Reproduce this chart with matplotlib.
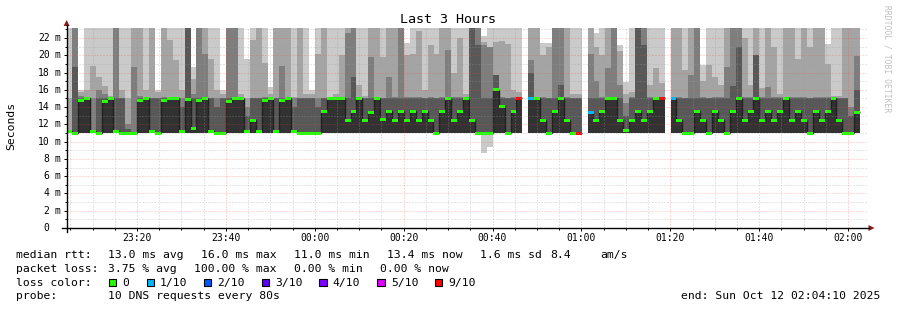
import numpy as np
import matplotlib
matplotlib.use("Agg")
import matplotlib.pyplot as plt
from matplotlib.patches import Rectangle, Polygon
from matplotlib.collections import LineCollection
from matplotlib.lines import Line2D
from matplotlib.transforms import blended_transform_factory

INF = float("inf")
NAN = float("nan")

# ---------------- data ----------------
GRAPH_START = "23:04:10"          # graph covers 3 hours
STEP_S = 80                        # rrd step (s)
FIRST_STEP_S = -7                  # first step start relative to graph start (s)
Y_MAX_MS = 23.16

x_tick_labels = ["23:20", "23:40", "00:00", "00:20", "00:40", "01:00", "01:20", "01:40", "02:00"]
y_tick_values = [0, 2, 4, 6, 8, 10, 12, 14, 16, 18, 20, 22]

median_ms = [
    11.2, 11.0, 14.8, 15.0, 11.2, 11.0, 14.6, 15.0, 11.2, 11.0,
    11.0, 11.0, 14.8, 15.0, 11.2, 11.0, 14.8, 15.0, 15.0, 11.2,
    14.9, 11.5, 14.8, 15.0, 11.2, 11.0, 11.0, 14.6, 15.0, 15.0,
    11.2, 12.5, 11.2, 14.8, 15.0, 11.2, 14.8, 15.0, 11.2, 11.0,
    11.0, 11.0, 11.0, 13.5, 15.0, 15.0, 15.0, 12.5, 13.5, 15.0,
    12.5, 13.4, 15.0, 12.6, 13.5, 12.5, 13.5, 12.5, 13.5, 12.5,
    13.5, 12.5, 11.0, 13.5, 15.0, 12.5, 13.5, 15.0, 12.5, 11.0,
    11.0, 11.0, 16.0, 14.1, 11.0, 13.5, 15.0, NAN, 15.0, 15.0,
    12.5, 11.0, 13.5, 15.0, 12.5, 11.0, 11.0, NAN, 13.4, 12.5,
    13.5, 15.0, 15.0, 12.5, 11.3, 12.5, 13.5, 12.5, 13.5, 15.0,
    15.0, NAN, 15.0, 12.5, 11.0, 11.0, 13.5, 12.5, 11.0, 13.5,
    12.5, 11.0, 13.5, 15.0, 12.5, 13.5, 15.0, 12.5, 13.5, 12.5,
    13.5, 15.0, 12.5, 13.5, 12.5, 11.0, 13.5, 12.5, 13.5, 15.0,
    12.5, 11.0, 11.0, 13.4, NAN,
]

loss_count = [
    0, 0, 0, 0, 0, 0, 0, 0, 0, 0,
    0, 0, 0, 0, 0, 0, 0, 0, 0, 0,
    0, 0, 0, 0, 0, 0, 0, 0, 0, 0,
    0, 0, 0, 0, 0, 0, 0, 0, 0, 0,
    0, 0, 0, 0, 0, 0, 0, 0, 0, 0,
    0, 0, 0, 0, 0, 0, 0, 0, 0, 0,
    0, 0, 0, 0, 0, 0, 0, 0, 0, 0,
    0, 0, 0, 0, 0, 0, 6, 10, 1, 0,
    0, 0, 0, 0, 0, 0, 6, 10, 1, 0,
    0, 0, 0, 0, 0, 0, 0, 0, 0, 0,
    6, 10, 1, 0, 0, 0, 0, 0, 0, 0,
    0, 0, 0, 0, 0, 0, 0, 0, 0, 0,
    0, 0, 0, 0, 0, 0, 0, 0, 0, 0,
    0, 0, 0, 0, NAN,
]

# sorted pings (ms): lowest, 2nd..5th, and upper ones 6th..10th
ping1_ms = [
    11.0, 11.0, 11.0, 11.0, 11.0, 11.0, 11.0, 11.0, 11.0, 11.0,
    11.0, 11.0, 11.0, 11.0, 11.0, 11.0, 11.0, 11.0, 11.0, 11.0,
    11.0, 11.0, 11.0, 11.0, 11.0, 11.0, 11.0, 11.0, 11.0, 11.0,
    11.0, 11.0, 11.0, 11.0, 11.0, 11.0, 11.0, 11.0, 11.0, 11.0,
    11.0, 11.0, 11.0, 11.0, 11.0, 11.0, 11.0, 11.0, 11.0, 11.0,
    11.0, 11.0, 11.0, 11.0, 11.0, 11.0, 11.0, 11.0, 11.0, 11.0,
    11.0, 11.0, 11.0, 11.0, 11.0, 11.0, 11.0, 11.0, 11.0, 11.0,
    8.7, 9.4, 11.0, 11.0, 11.0, 11.0, 11.0, NAN, 11.0, 11.0,
    11.0, 11.0, 11.0, 11.0, 11.0, 11.0, 11.0, NAN, 11.0, 11.0,
    11.0, 11.0, 11.0, 11.0, 11.0, 11.0, 11.0, 11.0, 11.0, 11.0,
    11.0, NAN, 11.0, 11.0, 11.0, 11.0, 11.0, 11.0, 11.0, 11.0,
    11.0, 11.0, 11.0, 11.0, 11.0, 11.0, 11.0, 11.0, 11.0, 11.0,
    11.0, 11.0, 11.0, 11.0, 11.0, 11.0, 11.0, 11.0, 11.0, 11.0,
    11.0, 11.0, 11.0, 11.0, NAN,
]

ping2to5_ms = [
    11.0, 11.0, 11.0, 11.0, 11.0, 11.0, 11.0, 11.0, 11.0, 11.0,
    11.0, 11.0, 11.0, 11.0, 11.0, 11.0, 11.0, 11.0, 11.0, 11.0,
    11.0, 11.0, 11.0, 11.0, 11.0, 11.0, 11.0, 11.0, 11.0, 11.0,
    11.0, 11.0, 11.0, 11.0, 11.0, 11.0, 11.0, 11.0, 11.0, 11.0,
    11.0, 11.0, 11.0, 11.0, 11.0, 11.0, 11.0, 11.0, 11.0, 11.0,
    11.0, 11.0, 11.0, 11.0, 11.0, 11.0, 11.0, 11.0, 11.0, 11.0,
    11.0, 11.0, 11.0, 11.0, 11.0, 11.0, 11.0, 11.0, 11.0, 11.0,
    11.0, 11.0, 11.0, 11.0, 11.0, 11.0, 11.0, NAN, 11.0, 11.0,
    11.0, 11.0, 11.0, 11.0, 11.0, 11.0, 11.0, NAN, 11.0, 11.0,
    11.0, 11.0, 11.0, 11.0, 11.0, 11.0, 11.0, 11.0, 11.0, 11.0,
    11.0, NAN, 11.0, 11.0, 11.0, 11.0, 11.0, 11.0, 11.0, 11.0,
    11.0, 11.0, 11.0, 11.0, 11.0, 11.0, 11.0, 11.0, 11.0, 11.0,
    11.0, 11.0, 11.0, 11.0, 11.0, 11.0, 11.0, 11.0, 11.0, 11.0,
    11.0, 11.0, 11.0, 11.0, NAN,
]

ping6_ms = [
    11.2, 11.0, 14.8, 15.0, 11.2, 11.0, 14.6, 15.0, 11.2, 11.0,
    11.0, 11.0, 14.8, 15.0, 11.2, 11.0, 14.8, 15.0, 15.0, 11.2,
    14.9, 11.5, 14.8, 15.0, 11.2, 11.0, 11.0, 14.6, 15.0, 15.0,
    11.2, 12.5, 11.2, 14.8, 15.0, 11.2, 14.8, 15.0, 11.2, 11.0,
    11.0, 11.0, 11.0, 13.5, 15.0, 15.0, 15.0, 12.5, 13.5, 15.0,
    12.5, 13.4, 15.0, 12.6, 13.5, 12.5, 13.5, 12.5, 13.5, 12.5,
    13.5, 12.5, 11.0, 13.5, 15.0, 12.5, 13.5, 15.0, 12.5, 11.0,
    11.0, 11.0, 16.0, 14.1, 11.0, 13.5, 15.0, NAN, 15.0, 15.0,
    12.5, 11.0, 13.5, 15.0, 12.5, 11.0, 11.0, NAN, 13.4, 12.5,
    13.5, 15.0, 15.0, 12.5, 11.3, 12.5, 13.5, 12.5, 13.5, 15.0,
    15.0, NAN, 15.0, 12.5, 11.0, 11.0, 13.5, 12.5, 11.0, 13.5,
    12.5, 11.0, 13.5, 15.0, 12.5, 13.5, 15.0, 12.5, 13.5, 12.5,
    13.5, 15.0, 12.5, 13.5, 12.5, 11.0, 13.5, 12.5, 13.5, 15.0,
    12.5, 11.0, 11.0, 13.4, NAN,
]

ping7_ms = [
    11.2, 18.7, 15.1, 15.1, 11.2, 15.0, 15.0, 15.0, 15.0, 15.0,
    11.5, 11.0, 15.1, 15.0, 15.0, 15.0, 15.1, 15.1, 15.0, 14.0,
    INF, 15.0, 15.1, 15.0, 15.0, 14.0, 15.0, 15.0, 15.2, 15.1,
    13.0, 15.0, 15.0, 15.0, 15.0, 15.0, 15.0, 15.0, 14.0, 15.0,
    15.0, 15.0, 14.0, 15.0, 15.0, 15.0, 15.1, 15.0, 17.5, 15.1,
    15.0, 15.0, 15.1, 15.0, 15.0, 15.0, 15.0, 15.0, 15.0, 15.0,
    15.0, 15.0, 15.0, 15.0, 15.1, 15.0, 15.0, 15.1, INF, 21.2,
    15.0, 15.0, 17.7, 15.0, 15.0, 15.0, 15.1, NAN, 18.0, 15.1,
    15.0, 15.0, 15.0, 16.6, 15.0, 15.0, 15.0, NAN, 15.0, 15.0,
    15.0, 15.1, 15.1, 15.0, 13.0, 15.0, INF, 21.2, 15.0, 15.1,
    15.1, NAN, 15.1, 15.0, 15.0, 15.0, 15.1, 15.0, 15.0, 15.0,
    15.0, 15.0, 16.4, 21.0, 15.0, 15.0, 20.0, 15.0, 15.0, 15.0,
    15.0, 15.1, 15.0, 15.0, 15.0, 15.0, 15.0, 15.0, 15.0, 15.1,
    15.0, 15.0, 13.0, 16.0, NAN,
]

ping8_ms = [
    11.2, INF, 15.3, 15.2, 15.0, 16.0, 15.5, 15.1, INF, 15.0,
    12.0, 18.7, 15.3, 15.1, 15.0, 15.1, 15.2, 15.2, 15.2, 15.0,
    INF, 15.5, INF, 20.2, 15.0, 15.0, 15.0, INF, INF, 15.2,
    14.0, 15.0, 15.0, 15.2, 15.1, 15.0, 18.8, 15.2, 15.0, 15.0,
    15.0, 15.0, 15.0, 15.0, 15.1, 15.1, 15.2, 22.6, INF, 15.2,
    15.0, 19.8, 15.2, 15.1, 17.5, 15.2, INF, 15.2, 15.2, 15.2,
    15.1, 15.2, 15.1, 15.2, 20.6, 15.2, 15.2, 15.2, INF, INF,
    21.2, 21.0, 17.7, 15.2, 15.1, 15.2, 15.2, NAN, 19.5, 15.2,
    15.2, 15.0, INF, INF, 15.2, 15.0, 15.0, NAN, 20.2, 17.0,
    15.2, 18.5, INF, 16.6, 14.5, 15.2, INF, INF, 15.2, 15.2,
    15.2, NAN, 15.2, 15.2, 15.0, 17.7, INF, 15.2, 15.1, 15.2,
    15.2, 18.7, INF, INF, 15.2, 15.2, 20.0, 15.2, 16.3, 15.2,
    15.2, 15.2, 15.2, 15.2, 15.2, 15.0, 15.2, 15.2, 15.2, 15.2,
    15.1, 15.0, 14.0, 19.9, NAN,
]

ping9_ms = [
    15.0, INF, 15.8, 16.0, 18.8, 17.5, 16.5, 15.3, INF, 16.0,
    15.0, INF, INF, 16.0, INF, 15.8, INF, 21.8, 19.5, 16.0,
    INF, 17.2, INF, INF, 19.6, 16.0, 15.5, INF, INF, 15.5,
    15.0, 21.8, INF, 19.1, 15.5, INF, INF, INF, 15.2, INF,
    15.5, 15.5, 20.2, INF, 15.2, 15.5, 20.0, INF, INF, 16.6,
    15.3, INF, INF, 19.8, INF, INF, INF, 20.0, 20.2, 22.8,
    16.0, 21.2, 20.2, INF, INF, 18.0, 22.0, 15.5, INF, INF,
    21.5, 21.0, 21.5, 21.6, 21.3, 16.0, 15.8, NAN, INF, INF,
    20.0, 21.0, INF, INF, INF, 15.5, 15.5, NAN, INF, 21.0,
    20.0, INF, INF, 20.5, 15.5, 15.8, INF, INF, 16.6, 18.5,
    16.8, NAN, INF, INF, 18.3, INF, INF, 17.0, 18.9, 17.5,
    16.6, INF, INF, INF, 22.0, 16.6, INF, 16.2, INF, 21.0,
    15.5, INF, INF, 19.6, INF, 21.0, INF, INF, 19.0, 15.3,
    15.3, INF, INF, INF, NAN,
]

ping10_ms = [
    INF, INF, 16.0, INF, INF, INF, INF, INF, INF, INF,
    INF, INF, INF, INF, INF, 16.0, INF, INF, INF, INF,
    INF, 18.7, INF, INF, INF, INF, 16.0, INF, INF, INF,
    19.6, INF, INF, INF, 16.3, INF, INF, INF, INF, INF,
    INF, 16.0, INF, INF, INF, INF, INF, INF, INF, INF,
    INF, INF, INF, INF, INF, INF, INF, 21.4, INF, INF,
    INF, INF, INF, INF, INF, INF, INF, INF, INF, INF,
    22.2, INF, INF, INF, INF, INF, INF, NAN, INF, INF,
    21.4, 21.4, INF, INF, INF, INF, INF, NAN, INF, 22.6,
    INF, INF, INF, 21.2, 16.9, INF, INF, INF, INF, INF,
    INF, NAN, INF, INF, INF, INF, INF, 18.9, INF, INF,
    INF, INF, INF, INF, INF, INF, INF, INF, INF, INF,
    INF, INF, INF, INF, INF, INF, INF, INF, 21.3, INF,
    INF, INF, INF, INF, NAN,
]

loss_levels = [0, 1, 2, 3, 4, 5, 9]
loss_labels = ["0", "1/10", "2/10", "3/10", "4/10", "5/10", "9/10"]
loss_colors = ["#26ff00", "#00b8ff", "#0059ff", "#5e00ff", "#7e00ff", "#dd00ff", "#ff0000"]
smoke_colors = ["#cacaca", "#a4a4a4", "#7e7e7e", "#585858", "#323232"]

legend_rows = [
    ("median rtt:", [("13.0 ms avg", 107.5), ("16.0 ms max", 201.0), ("11.0 ms min", 293.5),
                     ("13.4 ms now", 386.7), ("1.6 ms sd", 479.5), ("8.4", 550.0), ("am/s", 600.0)]),
    ("packet loss:", [("3.75 % avg", 107.5), ("100.00 % max", 194.0), ("0.00 % min", 293.5),
                      ("0.00 % now", 380.0)]),
]
probe_text = "10 DNS requests every 80s"
end_text = "end: Sun Oct 12 02:04:10 2025"

# ---------------- figure ----------------
W, H = 897, 310
X0, X1 = 66.6, 866.6      # plot area in pixels
YB, YT = 228.0, 28.0

MONO = "DejaVu Sans Mono"
plt.rcParams["font.family"] = MONO

fig = plt.figure(figsize=(W / 100, H / 100), dpi=100, facecolor="white")
ax = fig.add_axes([X0 / W, 1 - YB / H, (X1 - X0) / W, (YB - YT) / H])
ax.set_xlim(0, 180)
ax.set_ylim(0, Y_MAX_MS)
ax.set_facecolor("white")
for s in ax.spines.values():
    s.set_visible(False)

def minutes_from_start(label):
    h, m = label.split(":")[:2]
    sh, sm, ss = GRAPH_START.split(":")
    t = int(h) * 60 + int(m) - (int(sh) * 60 + int(sm) + int(ss) / 60)
    return t % 1440

n = len(median_ms)
step_min = STEP_S / 60
starts = (FIRST_STEP_S + STEP_S * np.arange(n)) / 60.0

# smoke bands
lows = [ping1_ms, ping2to5_ms, ping2to5_ms, ping2to5_ms, ping2to5_ms]
highs = [ping10_ms, ping9_ms, ping8_ms, ping7_ms, ping6_ms]
for lo, hi, col in zip(lows, highs, smoke_colors):
    lo = np.array(lo, dtype=float)
    hi = np.array(hi, dtype=float)
    ok = ~np.isnan(lo) & ~np.isnan(hi)
    hic = np.where(np.isinf(hi), Y_MAX_MS + 3, hi)
    ax.bar(starts[ok], (hic - lo)[ok], bottom=lo[ok], width=step_min * 1.002,
           align="edge", color=col, linewidth=0, antialiased=False, zorder=1)

# median line (dark) with steps
med = np.array(median_ms, dtype=float)
segs = []
for k in range(n):
    if np.isnan(med[k]):
        continue
    segs.append([(starts[k], med[k]), (starts[k] + step_min, med[k])])
    if k + 1 < n and not np.isnan(med[k + 1]):
        segs.append([(starts[k] + step_min, med[k]), (starts[k] + step_min, med[k + 1])])
ax.add_collection(LineCollection(segs, colors="#202020", linewidths=1.0, zorder=2))

# loss coloured median marks
px_ms = Y_MAX_MS / (YB - YT)
half = 1.5 * px_ms
def loss_color(l):
    for lv, c in zip(loss_levels, loss_colors):
        if l <= lv:
            return c
    return loss_colors[-1]
ok = ~np.isnan(med)
cols = [loss_color(loss_count[k]) for k in range(n) if ok[k]]
ax.bar(starts[ok], 2 * half, bottom=med[ok] - half, width=step_min * 1.002, align="edge",
       color=cols, linewidth=0, antialiased=False, zorder=3)

# grid (drawn over data, like rrdtool)
major_x = [minutes_from_start(l) for l in x_tick_labels]
minor_x = np.arange(minutes_from_start("23:05"), 180, 5.0)
dot = (0, (1, 2))
for v in range(1, 24):
    if v % 2 == 0:
        ax.axhline(v, color=(1, 0.25, 0.25, 0.4), lw=0.72, ls=dot, zorder=4)
    else:
        ax.axhline(v, color=(0.62, 0.62, 0.62, 0.5), lw=0.72, ls=dot, zorder=4)
for v in minor_x:
    if min(abs(v - m) for m in major_x) > 0.1:
        ax.axvline(v, color=(0.62, 0.62, 0.62, 0.5), lw=0.72, ls=dot, zorder=4)
for v in major_x:
    ax.axvline(v, color=(1, 0.25, 0.25, 0.4), lw=0.72, ls=dot, zorder=4)

ax.set_xticks(major_x)
ax.set_xticks(minor_x, minor=True)
ax.set_yticks(y_tick_values)
ax.set_yticks(range(0, 24), minor=True)
ax.tick_params(which="both", labelleft=False, labelbottom=False, direction="out",
               color="black", width=0.7, length=2.2)
ax.tick_params(which="minor", length=1.5)

# overlay in pixel coords for decorations & text
ov = fig.add_axes([0, 0, 1, 1], facecolor="none")
ov.set_xlim(0, W)
ov.set_ylim(H, 0)
ov.axis("off")
ov.set_zorder(5)

# axes lines + arrows
ov.add_line(Line2D([61.5, 869], [YB, YB], color="black", lw=1.0))
ov.add_line(Line2D([X0, X0], [231.5, 25], color="black", lw=1.0))
ov.add_patch(Polygon([(868.5, 225), (874.5, 228), (868.5, 231)], closed=True, color="#8b1a1a", lw=0))
ov.add_patch(Polygon([(63.6, 26), (X0, 20), (69.6, 26)], closed=True, color="#8b1a1a", lw=0))

# y tick labels
ty = blended_transform_factory(ov.transData, ax.transData)
for v in y_tick_values:
    ov.text(49.6, v, f"{v}", transform=ty, ha="right", va="center", fontsize=7, color="black")
    if v:
        ov.text(54.2, v, "m", transform=ty, ha="left", va="center", fontsize=7, color="black")
# x tick labels
tx = blended_transform_factory(ax.transData, ov.transData)
for lab, v in zip(x_tick_labels, major_x):
    ov.text(v, 237.6, lab, transform=tx, ha="center", va="center", fontsize=7, color="black")

ov.text(447.5, 19.5, "Last 3 Hours", ha="center", va="center", fontsize=9.6, color="black")
ov.text(11.0, 126, "Seconds", rotation=90, ha="center", va="center", fontsize=8.2, color="black")
ov.text(886.5, 5, "RRDTOOL / TOBI OETIKER", rotation=-90, ha="center", va="top",
        fontsize=5.8, color="#c0c0c0")

# legend
fs = 8.2
row_y = [255.0, 268.5, 282.6, 296.0]
for (head, items), yy in zip(legend_rows, row_y[:2]):
    ov.text(16.3, yy, head, ha="left", va="center", fontsize=fs)
    for txt, xx in items:
        ov.text(xx, yy, txt, ha="left", va="center", fontsize=fs)
ov.text(16.3, row_y[2], "loss color:", ha="left", va="center", fontsize=fs)
box_x = [109.0, 146.5, 204.0, 261.7, 319.3, 377.3, 435.0]
for bx, lab, c in zip(box_x, loss_labels, loss_colors):
    ov.add_patch(Rectangle((bx, row_y[2] - 3.6), 7.2, 7.2, facecolor=c, edgecolor="black", lw=0.8))
    ov.text(bx + 13.5, row_y[2], lab, ha="left", va="center", fontsize=fs)
ov.text(16.3, row_y[3], "probe:", ha="left", va="center", fontsize=fs)
ov.text(107.5, row_y[3], probe_text, ha="left", va="center", fontsize=fs)
ov.text(880.5, row_y[3], end_text, ha="right", va="center", fontsize=fs)

fig.savefig("out.png", dpi=100, facecolor="white")
